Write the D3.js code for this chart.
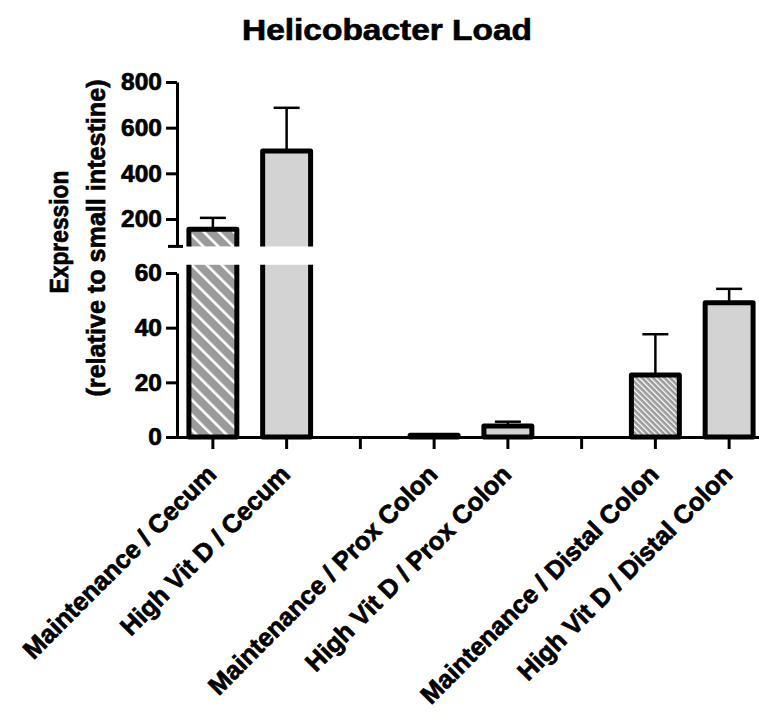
<!DOCTYPE html>
<html>
<head>
<meta charset="utf-8">
<script src="https://cdn.jsdelivr.net/npm/d3@7"></script>
<style>
  body { margin: 0; background: #fff; }
  svg { display: block; }
  text { font-family: "Liberation Sans", Arial, sans-serif; font-weight: bold; fill: #000; stroke: #000; stroke-width: 0.7px; }
</style>
</head>
<body>
<svg id="chart" width="759" height="717"></svg>
<script>
// ---------- data ----------
const chartTitle = "Helicobacter Load";
const yTitleLines = ["Expression", "(relative to small intestine)"];
const categories = [
  "Maintenance / Cecum", "High Vit D / Cecum", "",
  "Maintenance / Prox Colon", "High Vit D / Prox Colon", " ",
  "Maintenance / Distal Colon", "High Vit D / Distal Colon"
];
const diets = ["Maintenance", "High Vit D", null, "Maintenance", "High Vit D", null, "Maintenance", "High Vit D"];
const means = [155, 498, null, 0.6, 4.0, null, 22.7, 49.1];
const sems  = [50, 189, null, 0, 1.6, null, 14.9, 5.1];
const lowerTicks = [0, 20, 40, 60];
const upperTicks = [200, 400, 600, 800];
const lowerDomain = [0, 60];
const upperDomain = [80, 800];
const breakValue = 63;

// ---------- layout ----------
const svg = d3.select("#chart");
const axisX = 177, baseY = 437;
const x = d3.scaleBand().domain(categories).range([176, 766]).paddingInner(0.35).paddingOuter(0.175);
const yLo = d3.scaleLinear().domain(lowerDomain).range([baseY, 273]);
const yHi = d3.scaleLinear().domain(upperDomain).range([246.4, 82]);

// patterns
const defs = svg.append("defs");
function hatch(id, period, white) {
  const p = defs.append("pattern").attr("id", id)
    .attr("patternUnits", "userSpaceOnUse")
    .attr("width", period).attr("height", period)
    .attr("patternTransform", "rotate(-45)");
  p.append("rect").attr("width", period).attr("height", period).attr("fill", "#9b9b9b");
  p.append("rect").attr("x", 0).attr("width", white).attr("height", period).attr("fill", "#fff");
}
hatch("hatchCoarse", 10.6, 2.6);
hatch("hatchFine", 4.0, 1.3);

function fillFor(i) {
  if (diets[i] === "Maintenance") return i === 0 ? "url(#hatchCoarse)" : "url(#hatchFine)";
  return "#d3d3d3";
}

// title
svg.append("text").attr("x", 387).attr("y", 40).attr("text-anchor", "middle")
  .attr("font-size", 30).attr("textLength", 290).attr("lengthAdjust", "spacingAndGlyphs")
  .text(chartTitle);

// y title
const yTitlePos = [[68, 232, 123], [105, 238, 317]];
yTitleLines.forEach((t, k) => {
  svg.append("text")
    .attr("transform", `translate(${yTitlePos[k][0]},${yTitlePos[k][1]}) rotate(-90)`)
    .attr("text-anchor", "middle").attr("font-size", 25)
    .attr("textLength", yTitlePos[k][2]).attr("lengthAdjust", "spacingAndGlyphs")
    .text(t);
});

// axes
function styleAxis(g) {
  g.attr("font-family", null).attr("font-size", null);
  g.select(".domain").attr("stroke", "#000").attr("stroke-width", 3);
  g.selectAll(".tick line").attr("stroke", "#000").attr("stroke-width", 3);
  g.selectAll(".tick text").attr("font-size", 24.5).attr("fill", "#000");
}
const gLo = svg.append("g").attr("transform", `translate(${axisX},0)`)
  .call(d3.axisLeft(yLo).tickValues(lowerTicks).tickSize(11).tickPadding(4).tickSizeOuter(0));
styleAxis(gLo);
const gHi = svg.append("g").attr("transform", `translate(${axisX},0)`)
  .call(d3.axisLeft(yHi).tickValues(upperTicks).tickSize(11).tickPadding(4).tickSizeOuter(0));
styleAxis(gHi);
// break marker at bottom of upper segment
gHi.append("line").attr("x1", -9).attr("x2", 6)
  .attr("y1", yHi(upperDomain[0])).attr("y2", yHi(upperDomain[0]))
  .attr("stroke", "#000").attr("stroke-width", 3);

const gX = svg.append("g").attr("transform", `translate(0,${baseY})`)
  .call(d3.axisBottom(x).tickSize(12).tickSizeOuter(0).tickFormat(""));
styleAxis(gX);
gX.select(".domain").attr("d", `M${axisX},0.5H${x.range()[1]}`);

// x labels
categories.forEach((c, i) => {
  if (!c.trim()) return;
  const cx = x(c) + x.bandwidth() / 2;
  svg.append("text")
    .attr("transform", `translate(${cx + 5},${baseY + 39}) rotate(-45)`)
    .attr("text-anchor", "end").attr("font-size", 25.5)
    .text(c);
});

// error bars
const bw = x.bandwidth();
const capW = 26;
categories.forEach((c, i) => {
  const v = means[i];
  if (v == null || !sems[i]) return;
  const sc = v > breakValue ? yHi : yLo;
  const cx = x(c) + bw / 2;
  const g = svg.append("g").attr("stroke", "#000").attr("stroke-width", 2.5);
  g.append("line").attr("x1", cx).attr("x2", cx).attr("y1", sc(v)).attr("y2", sc(v + sems[i]));
  g.append("line").attr("x1", cx - capW / 2).attr("x2", cx + capW / 2)
    .attr("y1", sc(v + sems[i])).attr("y2", sc(v + sems[i]));
});

// bars
categories.forEach((c, i) => {
  const v = means[i];
  if (v == null) return;
  const x0 = x(c), x1 = x(c) + bw;
  const fill = fillFor(i);
  const stroke = { stroke: "#000", "stroke-width": 5, "stroke-linejoin": "round", fill: "none" };
  function path(d) {
    const p = svg.append("path").attr("d", d);
    Object.entries(stroke).forEach(([k, val]) => p.attr(k, val));
  }
  if (v > breakValue) {
    const yTopLo = yLo(breakValue);
    svg.append("rect").attr("x", x0).attr("y", yTopLo).attr("width", bw).attr("height", baseY - yTopLo).attr("fill", fill);
    path(`M${x0},${yTopLo}V${baseY}H${x1}V${yTopLo}`);
    const yb = yHi(upperDomain[0]), yt = yHi(v);
    svg.append("rect").attr("x", x0).attr("y", yt).attr("width", bw).attr("height", yb - yt).attr("fill", fill);
    path(`M${x0},${yb}V${yt}H${x1}V${yb}`);
  } else {
    const yt = yLo(v);
    svg.append("rect").attr("x", x0).attr("y", yt).attr("width", bw).attr("height", baseY - yt).attr("fill", fill);
    path(`M${x0},${baseY}V${yt}H${x1}V${baseY}Z`);
  }
});
</script>
</body>
</html>
